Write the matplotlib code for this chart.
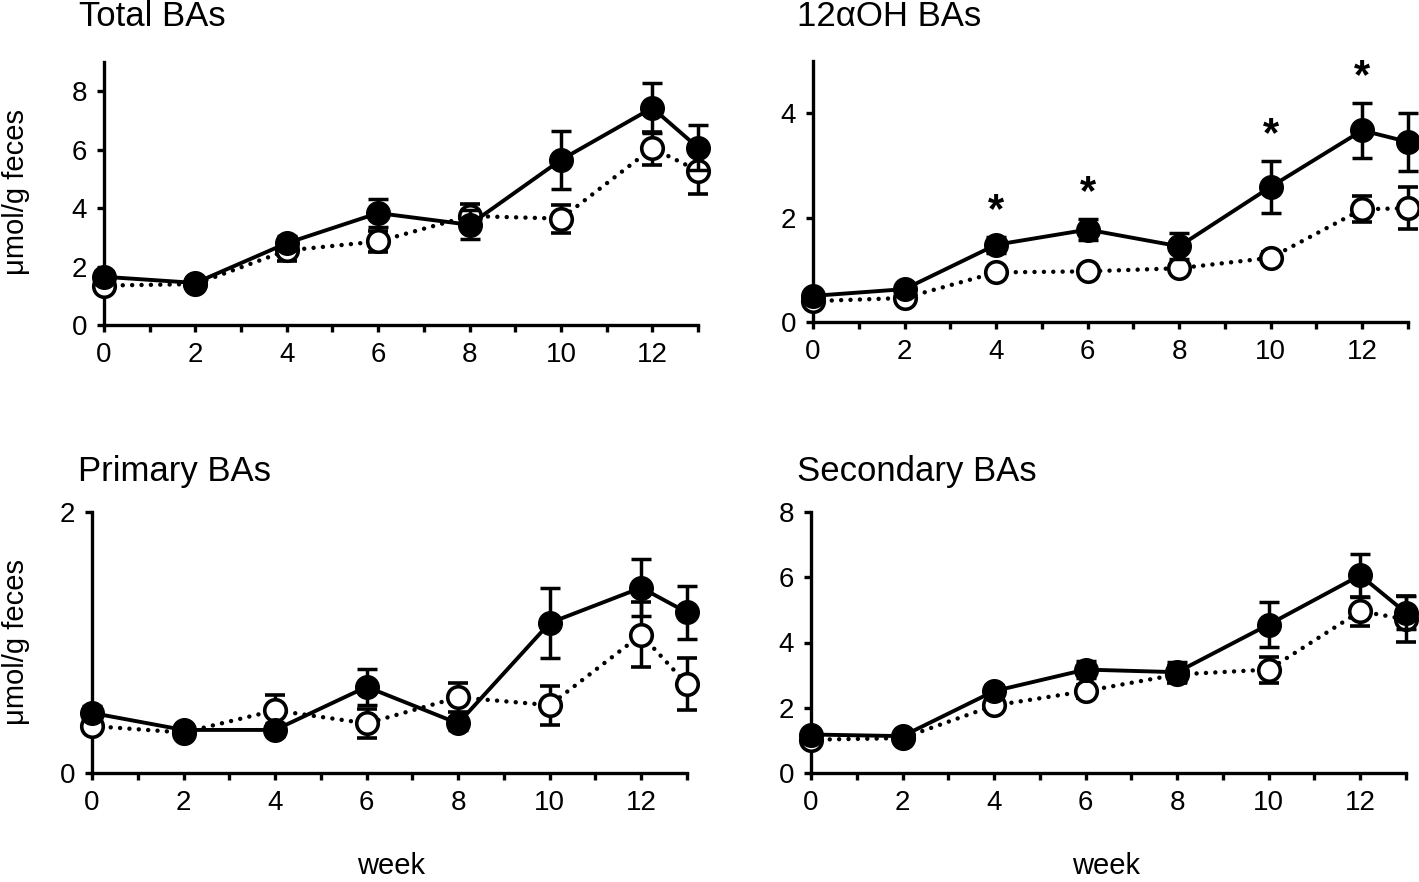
import matplotlib
matplotlib.use("Agg")
import matplotlib.pyplot as plt
import numpy as np

plt.rcParams['font.family'] = ['Liberation Sans', 'DejaVu Sans']

weeks = [0, 2, 4, 6, 8, 10, 12, 13]

# Total BAs
total_filled = [1.65, 1.44, 2.80, 3.83, 3.43, 5.65, 7.43, 6.07]
total_filled_err = [0.20, 0.10, 0.25, 0.49, 0.50, 1.00, 0.86, 0.77]
total_open = [1.35, 1.40, 2.55, 2.86, 3.73, 3.64, 6.05, 5.28]
total_open_err = [0.15, 0.10, 0.37, 0.37, 0.40, 0.48, 0.57, 0.80]

# 12aOH BAs
oh12_filled = [0.50, 0.63, 1.48, 1.77, 1.45, 2.59, 3.67, 3.45]
oh12_filled_err = [0.05, 0.06, 0.15, 0.20, 0.25, 0.50, 0.52, 0.55]
oh12_open = [0.40, 0.46, 0.95, 0.97, 1.03, 1.23, 2.16, 2.18]
oh12_open_err = [0.04, 0.05, 0.07, 0.07, 0.07, 0.12, 0.25, 0.40]
oh12_sig = [4, 6, 10, 12]

# Primary BAs
prim_filled = [0.46, 0.33, 0.33, 0.66, 0.38, 1.15, 1.42, 1.23]
prim_filled_err = [0.05, 0.04, 0.05, 0.14, 0.05, 0.27, 0.22, 0.20]
prim_open = [0.36, 0.31, 0.48, 0.38, 0.58, 0.52, 1.06, 0.68]
prim_open_err = [0.04, 0.03, 0.12, 0.11, 0.11, 0.15, 0.25, 0.20]

# Secondary BAs
sec_filled = [1.18, 1.13, 2.51, 3.17, 3.09, 4.55, 6.06, 4.91]
sec_filled_err = [0.15, 0.10, 0.20, 0.25, 0.30, 0.69, 0.66, 0.50]
sec_open = [1.02, 1.07, 2.07, 2.51, 3.02, 3.17, 4.96, 4.71]
sec_open_err = [0.10, 0.08, 0.15, 0.20, 0.25, 0.40, 0.44, 0.70]

W, H = 1419, 882
fig = plt.figure(figsize=(W / 100, H / 100), dpi=100)


def px_axes(left, right, y0, ytop):
    return fig.add_axes([left / W, 1 - y0 / H, (right - left) / W, (y0 - ytop) / H])


def draw_panel(ax, filled, ferr, opn, oerr, ymax, yticks):
    ax.errorbar(weeks, opn, yerr=oerr, color='black', lw=3.2,
                ls=(0, (0.01, 2.1)), dash_capstyle='round',
                marker='o', ms=15.5, mfc='white', mec='black', mew=2.6,
                elinewidth=2.5, capsize=7, capthick=2.5, clip_on=False, zorder=3)
    ax.errorbar(weeks, filled, yerr=ferr, color='black', lw=2.8, ls='-',
                marker='o', ms=17, mfc='black', mec='black',
                elinewidth=2.5, capsize=7, capthick=2.5, clip_on=False, zorder=4)
    ax.set_xlim(0, 13)
    ax.set_ylim(0, ymax)
    ax.set_yticks(yticks)
    ax.set_xticks(range(0, 14))
    ax.set_xticklabels([str(w) if w % 2 == 0 and w < 13 else '' for w in range(0, 14)])
    for s in ['top', 'right']:
        ax.spines[s].set_visible(False)
    for s in ['left', 'bottom']:
        ax.spines[s].set_linewidth(2.4)
    ax.tick_params(direction='out', length=5, width=2.4, labelsize=20, pad=7)


ax1 = px_axes(104, 698, 325, 62)
draw_panel(ax1, total_filled, total_filled_err, total_open, total_open_err, 9, [0, 2, 4, 6, 8])

ax2 = px_axes(813, 1408, 322, 61)
draw_panel(ax2, oh12_filled, oh12_filled_err, oh12_open, oh12_open_err, 5, [0, 2, 4])
for w in oh12_sig:
    i = weeks.index(w)
    ax2.text(w, oh12_filled[i] + oh12_filled_err[i] + 0.5, '*', ha='center',
             va='center', fontsize=30, fontweight='bold')

ax3 = px_axes(92, 687, 773, 512)
draw_panel(ax3, prim_filled, prim_filled_err, prim_open, prim_open_err, 2, [0, 2])

ax4 = px_axes(811, 1406, 773, 512)
draw_panel(ax4, sec_filled, sec_filled_err, sec_open, sec_open_err, 8, [0, 2, 4, 6, 8])

# titles and shared labels
title_kw = dict(fontsize=25, ha='left', va='center')
fig.text(79 / W, 1 - 16 / H, 'Total BAs', **title_kw)
fig.text(797 / W, 1 - 16 / H, '12αOH BAs', **title_kw)
fig.text(78 / W, 1 - 472 / H, 'Primary BAs', **title_kw)
fig.text(797 / W, 1 - 472 / H, 'Secondary BAs', **title_kw)

fig.text(16 / W, 1 - 192 / H, 'μmol/g feces', rotation=90, fontsize=21,
         ha='center', va='center')
fig.text(16 / W, 1 - 642 / H, 'μmol/g feces', rotation=90, fontsize=21,
         ha='center', va='center')
fig.text(391 / W, 1 - 866 / H, 'week', fontsize=21, ha='center', va='center')
fig.text(1106 / W, 1 - 866 / H, 'week', fontsize=21, ha='center', va='center')

fig.savefig('out.png', dpi=100)
